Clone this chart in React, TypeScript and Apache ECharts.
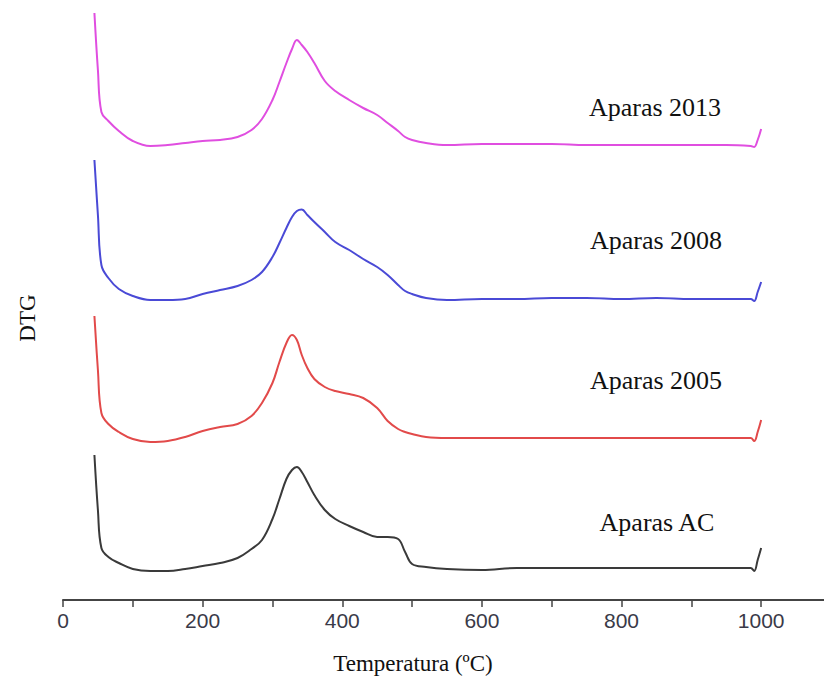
import React, { useEffect, useRef } from "react";
import * as echarts from "echarts";

// Temperature grid (°C) shared by all DTG curves
const temperature = [
  45, 50, 55, 65, 80, 100, 125, 150, 175, 200, 225, 250, 270, 285, 300, 310, 320, 328, 335, 342,
  350, 360, 375, 390, 410, 430, 450, 465, 480, 490, 500, 520, 550, 600, 650, 700, 750, 800, 850,
  900, 950, 985, 990, 995, 1000,
];

// DTG signals (arbitrary units, relative to each curve's own baseline)
const dtg2013 = [
  13.1, 7.4, 3.2, 2.3, 1.3, 0.3, -0.2, -0.1, 0.1, 0.3, 0.4, 0.7, 1.4, 2.5, 4.4, 6.2, 8.1, 9.5, 10.4, 9.9,
  9.2, 8.1, 6.3, 5.3, 4.4, 3.6, 2.9, 2.1, 1.3, 0.7, 0.4, 0.1, -0.1, 0, 0, 0, -0.1, -0.1, -0.1,
  -0.1, -0.1, -0.2, -0.3, 0.4, 1.5,
];
const dtg2008 = [
  13.8, 8.3, 3.3, 2.0, 0.9, 0.2, -0.2, -0.2, -0.1, 0.4, 0.8, 1.2, 1.8, 2.6, 4.1, 5.5, 7.0, 8.1, 8.7, 8.85,
  8.3, 7.6, 6.6, 5.6, 4.8, 3.9, 3.1, 2.3, 1.3, 0.7, 0.4, 0, -0.2, -0.1, -0.1, 0, 0, -0.1, 0,
  -0.1, -0.1, -0.1, -0.3, 0.6, 1.6,
];
const dtg2005 = [
  12.2, 6.8, 2.5, 1.4, 0.6, -0.1, -0.4, -0.3, 0.1, 0.7, 1.1, 1.4, 2.2, 3.5, 5.5, 7.6, 9.5, 10.3, 9.8, 8.3,
  7.0, 5.9, 5.1, 4.7, 4.4, 4.0, 3.0, 1.7, 0.9, 0.6, 0.4, 0.1, 0, 0, 0, 0, 0, 0, 0,
  0, 0, 0, -0.3, 0.6, 1.8,
];
const dtgAC = [
  11.3, 5.8, 2.0, 1.1, 0.5, -0.1, -0.3, -0.3, -0.1, 0.2, 0.5, 1.0, 1.9, 2.8, 4.9, 6.9, 8.9, 9.8, 10.1, 9.6,
  8.6, 7.3, 5.8, 4.9, 4.2, 3.6, 3.1, 3.1, 2.9, 1.6, 0.4, 0.1, -0.1, -0.2, 0, 0, 0, 0, 0,
  0, 0, 0, -0.3, 0.8, 2.0,
];

// Curve names, vertical offsets used to stack them, and colours
const seriesNames = ["Aparas 2013", "Aparas 2008", "Aparas 2005", "Aparas AC"];
const seriesData = [dtg2013, dtg2008, dtg2005, dtgAC];
const offsets = [45.6, 30.2, 16.2, 3.2];
const colors = ["#e04ee0", "#4a4ad6", "#e24a4a", "#3a3a3a"];

const xTicks = [0, 100, 200, 300, 400, 500, 600, 700, 800, 900, 1000];
const xLabels = [0, 200, 400, 600, 800, 1000];

const serif = "'Times New Roman', 'Liberation Serif', serif";
const sans = "Arial, 'Liberation Sans', sans-serif";

export default function App() {
  const ref = useRef<HTMLDivElement>(null);

  useEffect(() => {
    if (!ref.current) return;
    const chart = echarts.init(ref.current, undefined, { renderer: "svg" });

    const series = seriesNames.map((name, i) => ({
      name,
      type: "line",
      data: temperature.map((t, k) => [t, seriesData[i][k] + offsets[i]]),
      showSymbol: false,
      smooth: 0.4,
      lineStyle: { color: colors[i], width: 2 },
    }));

    const labelPos = [
      { x: 655, y: 107 },
      { x: 656, y: 240 },
      { x: 656, y: 380 },
      { x: 657, y: 522 },
    ];

    chart.setOption({
      animation: false,
      backgroundColor: "#ffffff",
      grid: { left: 63, right: 0, top: 0, bottom: 86, containLabel: false },
      xAxis: {
        type: "value",
        min: 0,
        max: 1090,
        axisLine: { show: true, lineStyle: { color: "#444", width: 2 } },
        axisTick: {
          show: true,
          length: 7,
          lineStyle: { color: "#444", width: 1.5 },
          customValues: xTicks,
        },
        axisLabel: {
          customValues: xLabels,
          formatter: (v: number) => String(v),
          margin: 10,
          fontFamily: sans,
          fontSize: 21,
          color: "#3a3a48",
        },
        splitLine: { show: false },
      },
      yAxis: {
        type: "value",
        min: 0,
        max: 60,
        show: false,
      },
      series,
      graphic: [
        {
          type: "text",
          x: 27,
          y: 318,
          rotation: Math.PI / 2,
          style: {
            text: "DTG",
            fontFamily: serif,
            fontSize: 23,
            fill: "#111",
            align: "center",
            verticalAlign: "middle",
          },
        },
        {
          type: "text",
          x: 413,
          y: 663,
          style: {
            text: "Temperatura (ºC)",
            fontFamily: serif,
            fontSize: 23,
            fill: "#111",
            align: "center",
            verticalAlign: "middle",
          },
        },
        ...seriesNames.map((name, i) => ({
          type: "text",
          x: labelPos[i].x,
          y: labelPos[i].y,
          style: {
            text: name,
            fontFamily: serif,
            fontSize: 26,
            fill: "#111",
            align: "center",
            verticalAlign: "middle",
          },
        })),
      ],
    });

    return () => chart.dispose();
  }, []);

  return (
    <div
      ref={ref}
      style={{ position: "absolute", left: 0, top: 0, width: 824, height: 686, background: "#fff" }}
    />
  );
}
